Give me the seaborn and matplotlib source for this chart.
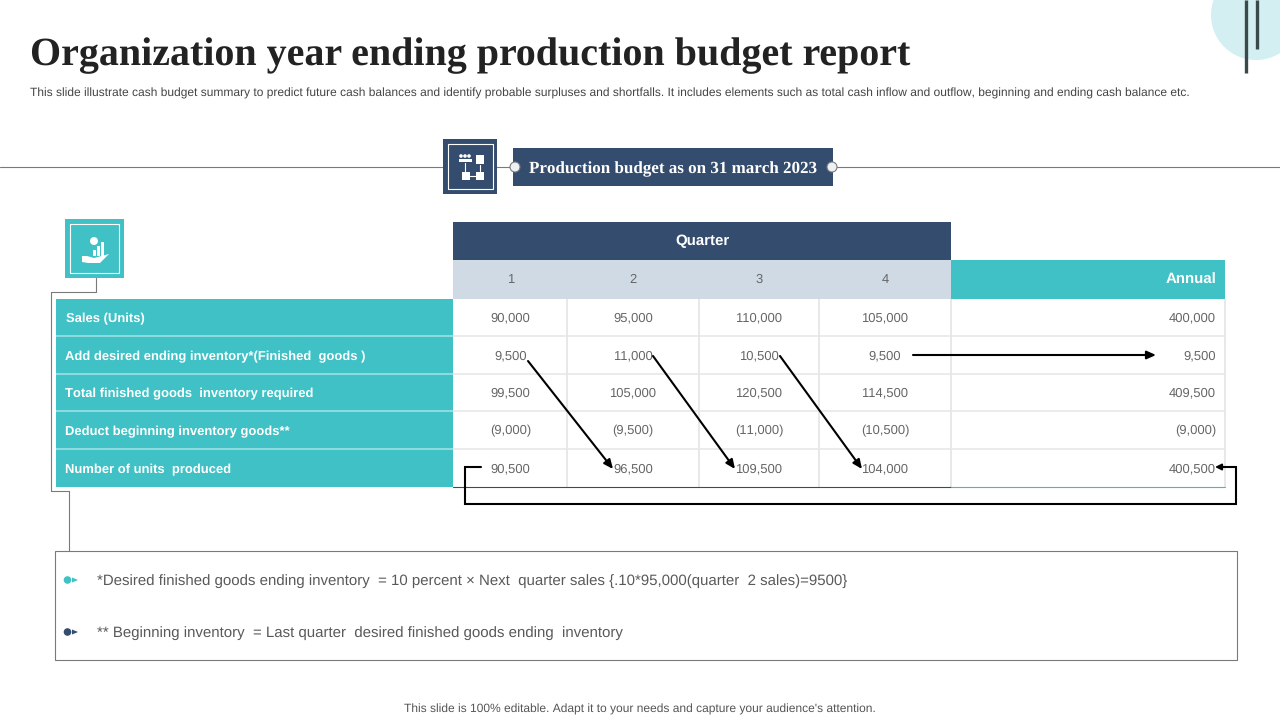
import numpy as np
import pandas as pd
import matplotlib
matplotlib.use("Agg")
import matplotlib.pyplot as plt
from matplotlib.colors import ListedColormap
from matplotlib.patches import Rectangle, Circle, Polygon
import seaborn as sns

title = "Organization year ending production budget report"
subtitle = ("This slide illustrate cash budget summary to predict future cash balances and identify probable "
            "surpluses and shortfalls. It includes elements such as total cash inflow and outflow, beginning and "
            "ending cash balance etc.")
banner = "Production budget as on 31 march 2023"
footer = "This slide is 100% editable. Adapt it to your needs and capture your audience's attention."
note_1 = "*Desired finished goods ending inventory  = 10 percent × Next  quarter sales {.10*95,000(quarter  2 sales)=9500}"
note_2 = "** Beginning inventory  = Last quarter  desired finished goods ending  inventory"

row_labels = ["Sales (Units)", "Add desired ending inventory*(Finished  goods )",
              "Total finished goods  inventory required", "Deduct beginning inventory goods**",
              "Number of units  produced"]
quarter_labels = ["1", "2", "3", "4"]
group_label = "Quarter"
annual_label = "Annual"
sales_units = [90000, 95000, 110000, 105000, 400000]
desired_ending = [9500, 11000, 10500, 9500, 9500]
total_required = [99500, 105000, 120500, 114500, 409500]
beginning_inventory = [-9000, -9500, -11000, -10500, -9000]
units_produced = [90500, 96500, 109500, 104000, 400500]

TEAL, NAVY, LIGHT, PALE = "#3FC1C5", "#344D6E", "#CFDAE5", "#D3EFF1"
GRID, TXT, LINE = "#E6E6E6", "#666666", "#7A7A7A"
W, H = 1280, 720

sns.set_theme(style="white")
plt.rcParams["font.family"] = ["Liberation Sans", "DejaVu Sans"]
plt.rcParams["text.hinting"] = "none"
plt.rcParams["text.hinting_factor"] = 1
fig = plt.figure(figsize=(W / 100, H / 100), dpi=100, facecolor="white")

body = pd.DataFrame([sales_units, desired_ending, total_required, beginning_inventory, units_produced],
                    index=row_labels, columns=quarter_labels + [annual_label])

def fmt(v):
    return f"({-v:,})" if v < 0 else f"{v:,}"

col_edges = [453, 567, 699, 819, 951, 1225]
top, bottom = 298.5, 486.5
n_rows = len(row_labels)

def px_axes(x0, x1, y0, y1, **kw):
    return fig.add_axes([x0 / W, 1 - y1 / H, (x1 - x0) / W, (y1 - y0) / H], **kw)

# row label column
ax_lab = px_axes(56, col_edges[0], top, bottom)
sns.heatmap(pd.DataFrame({"label": np.zeros(n_rows)}, index=row_labels), ax=ax_lab,
            cmap=ListedColormap([TEAL]), cbar=False, xticklabels=False, yticklabels=False, linewidths=0)
ax_lab.set_ylabel("")
ax_lab.hlines(range(1, n_rows), 0, 1, color="#A5E3E6", lw=1.1)

# body columns
for i, col in enumerate(body.columns):
    a = px_axes(col_edges[i], col_edges[i + 1], top, bottom)
    sns.heatmap(body[[col]], ax=a, cmap=ListedColormap(["white"]), cbar=False,
                xticklabels=False, yticklabels=False, linewidths=0)
    a.set_ylabel("")
    a.hlines(range(1, n_rows), 0, 1, color=GRID, lw=1.1)

# pixel overlay
ov = fig.add_axes([0, 0, 1, 1], zorder=10)
ov.set_xlim(0, W)
ov.set_ylim(H, 0)
ov.axis("off")
ov.patch.set_alpha(0)
under = fig.add_axes([0, 0, 1, 1], zorder=-1)
under.set_xlim(0, W)
under.set_ylim(H, 0)
under.axis("off")

ov.vlines(col_edges[1:], top, bottom, color=GRID, lw=1.3)

# top decoration
under.add_patch(Circle((1256, 15), 45, fc=PALE, ec="none"))
under.plot([1245.5, 1245.5], [0, 73], color="#3A4A4A", lw=2.4, solid_capstyle="butt")
under.plot([1256.5, 1256.5], [0, 49], color="#3A4A4A", lw=2.4, solid_capstyle="butt")

SERIF = ["Liberation Serif", "DejaVu Serif"]
ov.text(30, 55.5, title, fontsize=28.55, fontweight="bold", family=SERIF, color="#222222", va="center", ha="left")
ov.text(30, 93, subtitle, fontsize=8.66, color="#444444", va="center", ha="left")

# banner row
under.plot([0, W], [167, 167], color=LINE, lw=0.8)
ov.add_patch(Rectangle((443, 139), 54, 55, fc=NAVY, ec="none"))
ov.add_patch(Rectangle((448, 144), 45, 45, fc="none", ec="white", lw=0.8))
for (x, y, w, h) in [(459, 159, 13, 3), (476, 155, 8, 9), (462, 172, 8, 8), (476, 172, 8, 8)]:
    ov.add_patch(Rectangle((x, y), w, h, fc="white", ec="none"))
for x in [461, 465, 469]:
    ov.add_patch(Circle((x, 156), 1.8, fc="white", ec="none"))
ov.plot([470, 476], [176, 176], color="white", lw=0.8)
ov.plot([465, 465], [163, 171], color="white", lw=0.8)
ov.plot([480, 480], [165, 171], color="white", lw=0.8)
ov.add_patch(Rectangle((513, 148), 320, 38, fc=NAVY, ec="none"))
for x in [515, 832]:
    ov.add_patch(Circle((x, 167), 5, fc="#EEF1F4", ec=LINE, lw=0.8))
ov.text(673, 169, banner, fontsize=12.5, fontweight="bold", family=SERIF, color="white", ha="center", va="center")

# teal icon
ov.add_patch(Rectangle((65, 219), 59, 59, fc=TEAL, ec="none"))
ov.add_patch(Rectangle((70, 224), 49, 49, fc="none", ec="white", lw=0.8))
ov.add_patch(Circle((94, 241), 4, fc="white", ec="none"))
for x, h in [(93, 6), (97, 10), (101, 14)]:
    ov.add_patch(Rectangle((x, 256 - h), 3, h, fc="white", ec="none"))
ov.add_patch(Polygon([(82, 256), (87, 256), (94, 258), (109, 254), (100, 263), (88, 263), (82, 262)], fc="white", ec="none"))

# connector
ov.plot([95.5, 95.5, 51, 51, 68.5, 68.5], [278, 292, 292, 491, 491, 551], color=LINE, lw=0.8)

# headers
ov.add_patch(Rectangle((col_edges[0], 222), col_edges[4] - col_edges[0], 38, fc=NAVY, ec="none"))
ov.text((col_edges[0] + col_edges[4]) / 2, 241, group_label, color="white", fontsize=10.8, fontweight="bold",
        ha="center", va="center")
ov.add_patch(Rectangle((col_edges[0], 260), col_edges[4] - col_edges[0], 38.5, fc=LIGHT, ec="none"))
ov.add_patch(Rectangle((col_edges[4], 260), col_edges[5] - col_edges[4], 38.5, fc=TEAL, ec="none"))
ov.text(1216, 279.5, annual_label, color="white", fontsize=10.5, fontweight="bold", ha="right", va="center")

col_centers = [510.5, 633, 759, 885]
for x, q in zip(col_centers, quarter_labels):
    ov.text(x, 280, q, color=TXT, fontsize=9.2, ha="center", va="center")

row_y = [318, 356, 393, 431, 469]
label_x = [66, 65, 65, 65, 65]
for x, y, lab in zip(label_x, row_y, row_labels):
    ov.text(x, y + 0.5, lab, color="white", fontsize=9.5, fontweight="bold", ha="left", va="center")
for r, y in enumerate(row_y):
    vals = body.iloc[r].tolist()
    for x, v in zip(col_centers, vals[:4]):
        ov.text(x, y, fmt(v), color=TXT, fontsize=9.2, ha="center", va="center")
    ov.text(1216, y, fmt(vals[4]), color=TXT, fontsize=9.2, ha="right", va="center")

# table bottom rule
ov.plot([col_edges[0], col_edges[4]], [486.5, 486.5], color="#3F4A55", lw=0.8)
ov.plot([col_edges[4], col_edges[5]], [486.5, 486.5], color="#4FB8A8", lw=0.8)

# arrows
for (x0, y0, x1, y1) in [(528, 361, 613, 469), (653, 356, 735, 469), (780, 356, 862, 469), (913, 355, 1156, 355)]:
    ov.annotate("", xy=(x1, y1), xytext=(x0, y0),
                arrowprops=dict(arrowstyle="-|>,head_length=0.45,head_width=0.2", color="black", lw=1.5,
                                shrinkA=0, shrinkB=0))
ov.plot([481, 465, 465, 1236, 1236, 1222], [467, 467, 504, 504, 467, 467], color="black", lw=1.5,
        solid_joinstyle="miter")
ov.annotate("", xy=(1215, 467), xytext=(1224, 467),
            arrowprops=dict(arrowstyle="-|>,head_length=0.3,head_width=0.15", color="black", lw=1.4,
                            shrinkA=0, shrinkB=0))

# notes box
ov.add_patch(Rectangle((55, 551), 1181.5, 109, fc="none", ec=LINE, lw=0.8))
for y, c in [(580, TEAL), (632, NAVY)]:
    ov.add_patch(Circle((67.5, y), 3.8, fc=c, ec="none"))
    ov.add_patch(Polygon([(72, y - 2.5), (78, y), (72, y + 2.5)], fc=c, ec="none"))
ov.text(97, 581.5, note_1, color="#595959", fontsize=11.0, ha="left", va="center")
ov.text(97, 633.5, note_2, color="#595959", fontsize=10.95, ha="left", va="center")

ov.text(640, 709, footer, color="#555555", fontsize=8.76, ha="center", va="center")

fig.savefig("out.png", dpi=100, facecolor="white")
